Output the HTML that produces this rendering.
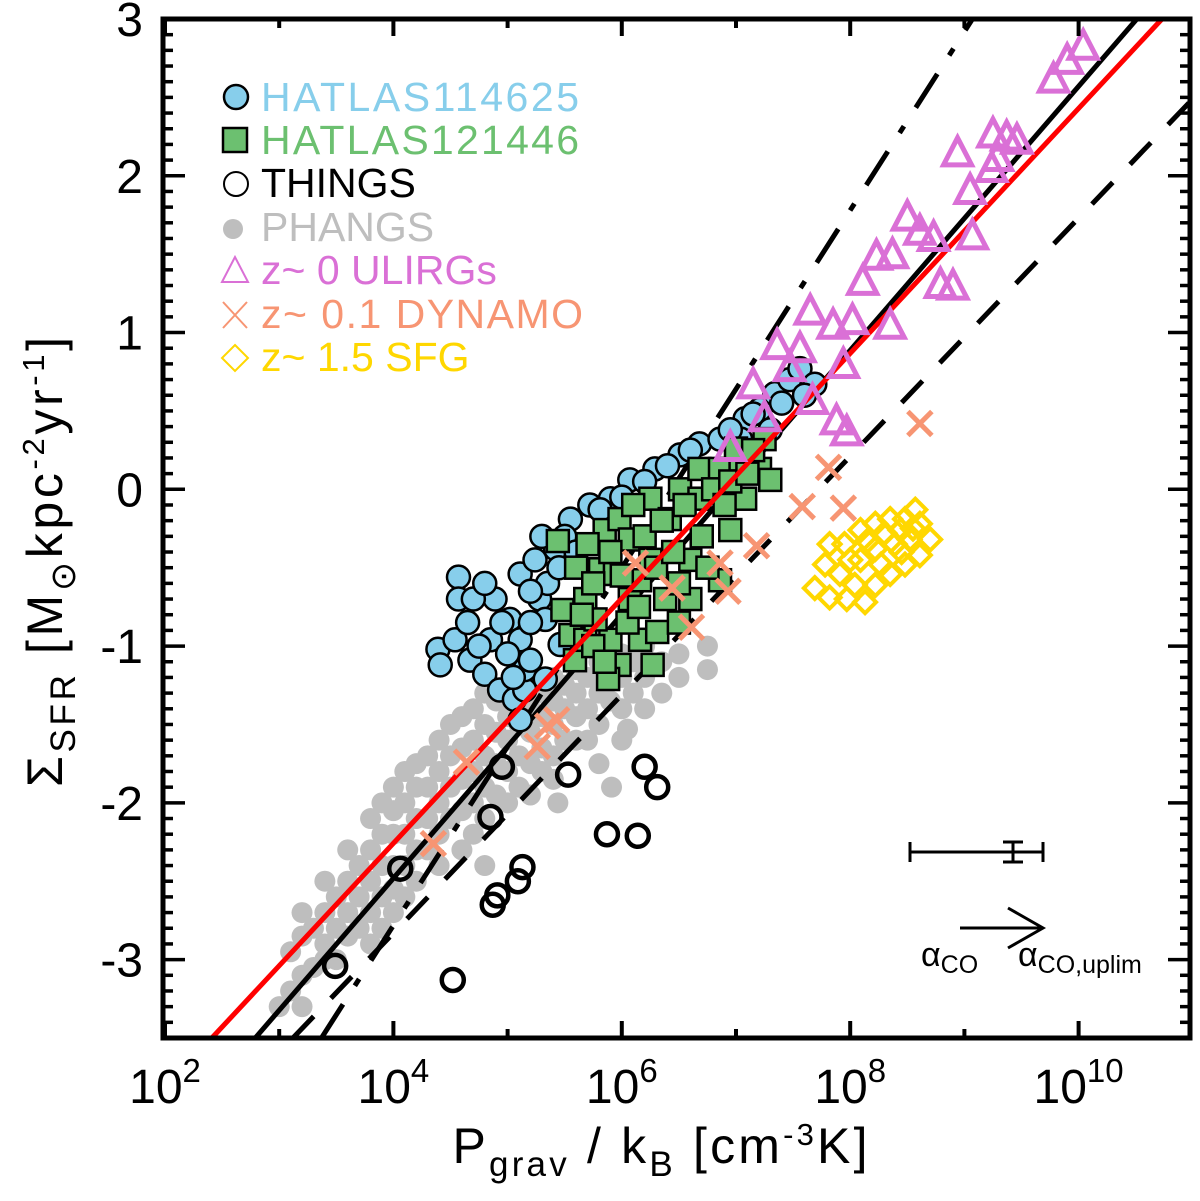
<!DOCTYPE html>
<html><head><meta charset="utf-8">
<style>
body{margin:0;background:#fff;}
svg text{font-family:"Liberation Sans",Arial,sans-serif;}
</style></head>
<body>
<svg id="chart" width="1200" height="1196" viewBox="0 0 1200 1196" xmlns="http://www.w3.org/2000/svg">
<g id="gray"></g>
<g id="lines"></g>
<g id="blue"></g>
<g id="green"></g>
<g id="things"></g>
<g id="dyn"></g>
<g id="ulirg"></g>
<g id="sfg"></g>
<g id="axes"></g>
<g font-size="41">
  <circle cx="236" cy="97" r="12" fill="#87ceeb" stroke="#000" stroke-width="2.5"/>
  <text x="261" y="111" fill="#87ceeb" textLength="318">HATLAS114625</text>
  <rect x="223" y="128" width="24" height="24" fill="#6cc070" stroke="#000" stroke-width="2.5"/>
  <text x="261" y="154" fill="#6cc070" textLength="318">HATLAS121446</text>
  <circle cx="236" cy="184" r="12" fill="none" stroke="#000" stroke-width="2"/>
  <text x="261" y="197" fill="#000">THINGS</text>
  <circle cx="233" cy="229" r="10" fill="#bebebe"/>
  <text x="261" y="241" fill="#bebebe">PHANGS</text>
  <polygon points="235,257 222,282 248,282" fill="none" stroke="#da70d6" stroke-width="2"/>
  <text x="261" y="284" fill="#da70d6">z~ 0 ULIRGs</text>
  <path d="M223,302 L247,328 M247,302 L223,328" stroke="#f79573" stroke-width="2"/>
  <text x="261" y="328" fill="#f79573" textLength="322">z~ 0.1 DYNAMO</text>
  <polygon points="235,345 248,358 235,371 222,358" fill="none" stroke="#ffd700" stroke-width="2"/>
  <text x="261" y="371" fill="#ffd700">z~ 1.5 SFG</text>
</g>
<g stroke="#000" stroke-width="3">
  <line x1="910" y1="852" x2="1043" y2="852"/><line x1="910" y1="842" x2="910" y2="862"/><line x1="1043" y1="842" x2="1043" y2="862"/>
  <line x1="1013" y1="842" x2="1013" y2="862"/><line x1="1003" y1="842" x2="1023" y2="842"/><line x1="1003" y1="862" x2="1023" y2="862"/>
</g>
<g stroke="#000" stroke-width="3" fill="none">
  <line x1="960" y1="928" x2="1043" y2="928"/><polyline points="1008,908 1043,928 1008,948"/>
</g>
<text x="921" y="966" font-size="34">α<tspan font-size="25" dy="7">CO</tspan></text>
<text x="1018" y="966" font-size="34">α<tspan font-size="25" dy="7">CO,uplim</tspan></text>
<text x="660" y="1163" font-size="50" text-anchor="middle" textLength="415">P<tspan font-size="35" dy="13">grav</tspan><tspan dy="-13"> / k</tspan><tspan font-size="35" dy="13">B</tspan><tspan dy="-13"> [cm</tspan><tspan font-size="31" dy="-18">-3</tspan><tspan dy="18">K]</tspan></text>
<text transform="translate(62,562) rotate(-90)" font-size="50" text-anchor="middle" textLength="450">Σ<tspan font-size="35" dy="13">SFR</tspan><tspan dy="-13"> [M</tspan><tspan font-size="35" dy="13">⊙</tspan><tspan dy="-13">kpc</tspan><tspan font-size="31" dy="-18">-2</tspan><tspan dy="18">yr</tspan><tspan font-size="31" dy="-18">-1</tspan><tspan dy="18">]</tspan></text>
</svg>
<script>
const NS="http://www.w3.org/2000/svg";
const xTicks=[2,4,6,8,10];
const yTicks=[3,2,1,0,-1,-2,-3];
const phangsX=[3.1,3.1,3.2,3.2,3.2,3.2,3.4,3.4,3.4,3.4,3.6,3.6,3.6,3.6,3.8,3.8,3.8,3.8,3.8,4.0,4.0,4.0,4.0,4.0,4.0,4.2,4.2,4.2,4.2,4.2,4.4,4.4,4.4,4.4,4.4,4.6,4.6,4.6,4.6,4.6,4.8,4.8,4.8,4.8,4.8,4.8,5.0,5.0,5.0,5.0,5.0,5.2,5.2,5.2,5.2,5.2,5.4,5.4,5.4,5.4,5.4,5.6,5.6,5.6,5.6,5.8,5.8,5.8,5.8,6.0,6.0,6.0,6.0,6.2,6.2,6.2,6.5,6.5,6.75,6.75,6.05,5.91,5.44,
3.3,3.3,3.5,3.5,3.5,3.7,3.7,3.7,3.9,3.9,3.9,3.9,3.9,4.1,4.1,4.1,4.1,4.1,4.3,4.3,4.3,4.3,4.5,4.5,4.5,4.5,4.7,4.7,4.7,4.7,4.7,4.9,4.9,4.9,4.9,5.1,5.1,5.1,5.1,5.3,5.3,5.3,5.3,5.5,5.5,5.5,5.7,5.7,5.7,5.9,5.9,6.1,6.1,6.35,6.35,3.0];
const phangsY=[-3.2,-2.95,-2.7,-2.85,-3.1,-3.3,-2.5,-2.7,-2.9,-3.0,-2.3,-2.5,-2.7,-2.85,-2.1,-2.3,-2.5,-2.7,-2.9,-1.9,-2.05,-2.2,-2.4,-2.55,-2.7,-1.75,-1.9,-2.1,-2.3,-2.5,-1.6,-1.8,-2.0,-2.2,-2.4,-1.45,-1.65,-1.85,-2.05,-2.3,-1.3,-1.5,-1.7,-1.9,-2.1,-2.4,-1.3,-1.45,-1.6,-1.8,-2.0,-1.25,-1.4,-1.55,-1.75,-1.95,-1.2,-1.35,-1.5,-1.7,-1.85,-1.15,-1.3,-1.45,-1.6,-1.1,-1.3,-1.5,-1.75,-1.05,-1.2,-1.4,-1.6,-1.0,-1.2,-1.4,-1.05,-1.2,-1.0,-1.15,-1.53,-1.9,-2.0,
-2.8,-3.05,-2.6,-2.8,-3.0,-2.4,-2.6,-2.8,-2.0,-2.2,-2.4,-2.6,-2.8,-1.8,-2.0,-2.2,-2.4,-2.6,-1.7,-1.9,-2.1,-2.3,-1.5,-1.7,-1.9,-2.1,-1.4,-1.6,-1.8,-2.0,-2.2,-1.35,-1.55,-1.75,-1.95,-1.3,-1.5,-1.7,-1.9,-1.3,-1.45,-1.65,-1.8,-1.25,-1.4,-1.6,-1.2,-1.4,-1.6,-1.2,-1.35,-1.1,-1.3,-1.1,-1.3,-3.3];
const blueX=[4.57,4.57,4.39,4.41,4.54,4.67,4.80,4.93,5.06,5.15,5.15,4.89,5.02,4.85,5.11,5.28,5.11,5.24,5.42,5.33,5.46,5.20,5.33,5.11,5.72,5.55,5.90,6.07,6.29,6.51,6.68,6.86,7.08,7.21,7.34,7.47,7.56,7.69,7.30,7.04,5.81,
4.65,4.75,4.7,4.95,5.0,5.05,4.8,5.2,5.35,5.45,5.5,5.3,5.6,5.2,6.0,6.2,6.4,6.6,6.95,7.15,7.4,7.6];
const blueY=[-0.56,-0.70,-1.02,-1.12,-0.96,-1.09,-1.18,-1.28,-1.34,-1.28,-1.15,-0.70,-0.83,-0.96,-0.96,-0.70,-0.54,-0.45,-0.38,-0.83,-0.99,-1.09,-1.21,-1.47,-0.10,-0.19,-0.06,0.06,0.13,0.22,0.29,0.32,0.45,0.51,0.61,0.70,0.77,0.67,0.38,0.32,-0.13,
-0.85,-1.0,-0.7,-0.85,-1.05,-1.2,-0.6,-0.85,-0.6,-0.5,-0.3,-0.3,-0.4,-0.65,-0.05,0.05,0.15,0.25,0.38,0.48,0.55,0.6];
const greenX=[5.44,5.48,5.55,5.59,5.68,5.68,5.81,5.85,5.98,6.07,5.94,6.07,5.90,5.98,5.88,6.16,6.31,6.27,6.25,6.25,6.38,6.42,6.51,6.60,6.68,6.68,6.60,6.86,6.86,6.95,7.04,7.08,7.21,7.25,7.30,7.0,6.16,5.77,
5.6,5.7,5.75,5.9,6.0,6.05,6.1,6.2,6.3,6.35,6.45,6.5,6.55,6.7,6.75,6.8,6.9,6.95,7.1,7.15,6.5,5.65,5.75,6.15,5.85];
const greenY=[-0.33,-0.77,-0.93,-1.09,-0.96,-0.70,-0.51,-0.26,-0.19,-0.32,-0.54,-0.70,-0.96,-1.12,-1.21,-0.96,-0.91,-1.12,-0.06,-0.45,-0.70,-0.19,0.0,-0.45,-0.06,0.13,-0.70,-0.58,0.13,-0.26,0.19,-0.06,0.13,0.32,0.06,0.26,-0.58,-0.83,
-0.5,-0.35,-0.6,-0.4,-0.55,-0.85,-0.1,-0.3,-0.5,-0.2,-0.4,-0.6,-0.1,-0.3,-0.5,0.0,-0.1,0.05,0.1,0.25,-0.85,-0.8,-1.0,-0.75,-1.1];
const thingsX=[4.95,5.53,6.20,6.31,4.85,5.87,6.14,4.06,5.13,5.09,4.91,4.87,3.49,4.52];
const thingsY=[-1.77,-1.82,-1.77,-1.90,-2.09,-2.20,-2.21,-2.42,-2.41,-2.50,-2.59,-2.65,-3.04,-3.13];
const dynX=[8.61,7.81,7.58,7.94,7.18,6.86,6.12,6.44,6.93,6.61,5.35,5.26,5.43,4.64,4.35];
const dynY=[0.42,0.14,-0.11,-0.12,-0.36,-0.47,-0.47,-0.63,-0.65,-0.88,-1.51,-1.64,-1.47,-1.74,-2.26];
const ulirgX=[10.04,9.90,9.78,9.25,9.37,9.46,9.29,8.94,9.24,9.05,8.50,8.61,8.73,9.07,8.23,8.37,8.11,8.79,8.90,7.65,7.85,8.02,8.35,7.36,7.56,7.94,7.15,7.67,7.88,7.97,6.95,7.47,7.25];
const ulirgY=[2.82,2.73,2.61,2.26,2.24,2.22,2.11,2.14,2.04,1.90,1.73,1.64,1.60,1.61,1.48,1.49,1.32,1.30,1.29,1.13,1.04,1.07,1.04,0.91,0.89,0.79,0.66,0.56,0.43,0.36,0.26,0.77,0.45];
const sfgX=[7.69,7.82,7.97,8.13,8.04,7.91,7.78,7.82,7.95,8.09,8.22,8.35,8.48,8.61,8.70,8.61,8.48,8.35,8.22,8.09,8.22,8.39,8.52,8.0,8.27,8.44,8.57,8.15,8.3,8.45,8.55];
const sfgY=[-0.63,-0.69,-0.70,-0.72,-0.61,-0.54,-0.48,-0.35,-0.35,-0.26,-0.22,-0.19,-0.19,-0.22,-0.32,-0.42,-0.48,-0.54,-0.61,-0.45,-0.38,-0.35,-0.32,-0.45,-0.48,-0.26,-0.13,-0.33,-0.28,-0.4,-0.25];
// fit lines: [logx at y=-3.5, logx at y=3.0]
const redLine=[2.41,10.73];
const blackLine=[2.79,10.51];
const dashLine=[3.12,11.67];
const dashDotLine=[3.37,9.07];

const L=163,R=1190,T=19,B=1038;
const xmin=2+(L-165)/114.2, xmax=2+(R-165)/114.2, ymin=-3.5, ymax=3.0;
const sx=v=>L+(v-xmin)/(xmax-xmin)*(R-L);
const sy=v=>B-(v-ymin)/(ymax-ymin)*(B-T);
function mk(tag,attrs,parent){const e=document.createElementNS(NS,tag);for(const k in attrs)e.setAttribute(k,attrs[k]);parent.appendChild(e);return e;}
const g=id=>document.getElementById(id);

phangsX.forEach((x,i)=>{const c=mk('circle',{cx:sx(x),cy:sy(phangsY[i]),r:10.5,fill:'#bebebe'},g('gray'));

});

function line(arr,color,dash,name){const l=mk('line',{x1:sx(arr[0]),y1:sy(-3.5),x2:sx(arr[1]),y2:sy(3.0),stroke:color,'stroke-width':5},g('lines'));
if(dash)l.setAttribute('stroke-dasharray',dash);

}
line(dashLine,'#000','30 25','dashed-fit-line');
line(dashDotLine,'#000','40 22 8 22','dash-dot-fit-line');
line(blackLine,'#000',null,'black-fit-line');

blueX.forEach((x,i)=>{const c=mk('circle',{cx:sx(x),cy:sy(blueY[i]),r:11.5,fill:'#87ceeb',stroke:'#000','stroke-width':2.5},g('blue'));

});
greenX.forEach((x,i)=>{const c=mk('rect',{x:sx(x)-11,y:sy(greenY[i])-11,width:22,height:22,fill:'#6cc070',stroke:'#000','stroke-width':2.5},g('green'));

});
line(redLine,'#ff0000',null,'red-fit-line');
g('lines').parentNode.insertBefore(g('lines').lastChild,g('things'));
thingsX.forEach((x,i)=>{const c=mk('circle',{cx:sx(x),cy:sy(thingsY[i]),r:11,fill:'none',stroke:'#000','stroke-width':4.5},g('things'));

});
dynX.forEach((x,i)=>{const cx=sx(x),cy=sy(dynY[i]);const p=mk('path',{d:`M${cx-12},${cy-12}L${cx+12},${cy+12}M${cx+12},${cy-12}L${cx-12},${cy+12}`,stroke:'#f79573','stroke-width':5,fill:'none'},g('dyn'));

});
ulirgX.forEach((x,i)=>{const cx=sx(x),cy=sy(ulirgY[i]);const p=mk('polygon',{points:`${cx},${cy-16} ${cx-14},${cy+11} ${cx+14},${cy+11}`,stroke:'#da70d6','stroke-width':5,fill:'none'},g('ulirg'));

});
sfgX.forEach((x,i)=>{const cx=sx(x),cy=sy(sfgY[i]);const p=mk('polygon',{points:`${cx},${cy-11} ${cx+11},${cy} ${cx},${cy+11} ${cx-11},${cy}`,stroke:'#ffd700','stroke-width':4,fill:'none'},g('sfg'));

});

// axes
const ax=g('axes');
const box=mk('rect',{x:L,y:T,width:R-L,height:B-T,fill:'none',stroke:'#000','stroke-width':5},ax);


for(let e=2;e<=10;e++){const len=(e%2==0)?17:9;const X=sx(e);
mk('line',{x1:X,y1:B,x2:X,y2:B-len,stroke:'#000','stroke-width':4},ax);
mk('line',{x1:X,y1:T,x2:X,y2:T+len,stroke:'#000','stroke-width':4},ax);}
for(let k=-35;k<=30;k++){const v=k/10;const Y=sy(v);const len=(k%10==0)?22:10;
mk('line',{x1:L,y1:Y,x2:L+len,y2:Y,stroke:'#000','stroke-width':3.5},ax);
mk('line',{x1:R,y1:Y,x2:R-len,y2:Y,stroke:'#000','stroke-width':3.5},ax);}
xTicks.forEach(e=>{const t=mk('text',{x:sx(e),y:1103,'font-size':48,'text-anchor':'middle'},ax);
t.innerHTML=`10<tspan font-size="33" dy="-21">${e}</tspan>`;

});
yTicks.forEach(v=>{const t=mk('text',{x:143,y:sy(v)+17,'font-size':48,'text-anchor':'end'},ax);
t.textContent=String(v);

});
</script>
</body></html>
